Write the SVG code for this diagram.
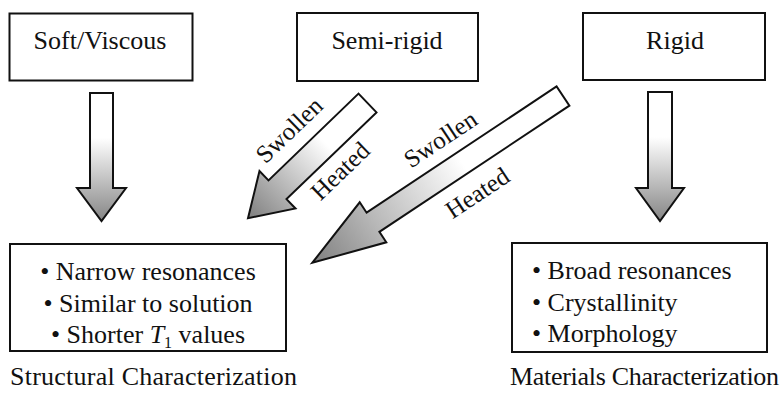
<svg xmlns="http://www.w3.org/2000/svg" width="781" height="393" viewBox="0 0 781 393">
  <defs>
    <style>
      .box { fill: #ffffff; stroke: #111111; stroke-width: 2; }
      .t { font-family: "Liberation Serif", "Times New Roman", serif; font-size: 26px; fill: #111111; }
      .lbl { font-family: "Liberation Serif", "Times New Roman", serif; font-size: 25px; fill: #111111; }
      .arrow { stroke: #111111; stroke-width: 2; stroke-linejoin: miter; }
    </style>
    <linearGradient id="gv" x1="0" y1="0" x2="0" y2="1">
      <stop offset="0" stop-color="#ffffff"/>
      <stop offset="0.35" stop-color="#ffffff"/>
      <stop offset="0.75" stop-color="#b4b4b4"/>
      <stop offset="1" stop-color="#858585"/>
    </linearGradient>
    <linearGradient id="gd1" gradientUnits="userSpaceOnUse" x1="367.5" y1="103" x2="248" y2="218">
      <stop offset="0" stop-color="#ffffff"/>
      <stop offset="0.35" stop-color="#ffffff"/>
      <stop offset="0.75" stop-color="#b0b0b0"/>
      <stop offset="1" stop-color="#7f7f7f"/>
    </linearGradient>
    <linearGradient id="gd2" gradientUnits="userSpaceOnUse" x1="563" y1="96" x2="312" y2="263">
      <stop offset="0" stop-color="#ffffff"/>
      <stop offset="0.4" stop-color="#ffffff"/>
      <stop offset="0.75" stop-color="#b8b8b8"/>
      <stop offset="1" stop-color="#7f7f7f"/>
    </linearGradient>
  </defs>
  <rect width="781" height="393" fill="#ffffff"/>

  <g id="soft-viscous">
    <rect class="box" x="9.5" y="13.5" width="183" height="67"/>
    <text class="t" x="100" y="49" text-anchor="middle">Soft/Viscous</text>
  </g>
  <g id="semi-rigid">
    <rect class="box" x="297" y="13" width="181" height="68"/>
    <text class="t" x="387" y="49" text-anchor="middle">Semi-rigid</text>
  </g>
  <g id="rigid">
    <rect class="box" x="583" y="13" width="182" height="67"/>
    <text class="t" x="675" y="49" text-anchor="middle">Rigid</text>
  </g>
  <g id="structural">
    <rect class="box" x="10" y="244" width="276" height="107"/>
    <text class="t" x="148" y="280" text-anchor="middle">• Narrow resonances</text>
    <text class="t" x="148" y="312" text-anchor="middle">• Similar to solution</text>
    <text class="t" x="148" y="343" text-anchor="middle">• Shorter <tspan font-style="italic">T</tspan><tspan font-size="16" dy="5">1</tspan><tspan dy="-5"> values</tspan></text>
    <text class="t" x="10" y="385" textLength="287" lengthAdjust="spacing">Structural Characterization</text>
  </g>
  <g id="materials">
    <rect class="box" x="512" y="243" width="255" height="109"/>
    <text class="t" x="532" y="279">• Broad resonances</text>
    <text class="t" x="532" y="311">• Crystallinity</text>
    <text class="t" x="532" y="342">• Morphology</text>
    <text class="t" x="510" y="385" textLength="269" lengthAdjust="spacing">Materials Characterization</text>
  </g>

  <g id="connectors">
    <polygon class="arrow" fill="url(#gv)" points="90,93 113,93 113,188 126,188 101.5,221 77,188 90,188"/>
    <polygon class="arrow" fill="url(#gv)" points="648,92 672,92 672,188 684,188 660,221 636,188 648,188"/>
    <polygon class="arrow" fill="url(#gd1)" points="358.5,93.6 268.5,180.4 259.5,171 248,218.2 295.5,208.5 286.5,199.1 376.5,112.4"/>
    <polygon class="arrow" fill="url(#gd2)" points="556.6,86.4 366.6,212.7 359.7,202.3 312.3,262.8 386.3,242.3 379.4,231.9 569.4,105.6"/>
    <text class="lbl" text-anchor="middle" transform="translate(295,136) rotate(-44)">Swollen</text>
    <text class="lbl" text-anchor="middle" transform="translate(346,177) rotate(-44)">Heated</text>
    <text class="lbl" text-anchor="middle" transform="translate(445,146) rotate(-33.6)">Swollen</text>
    <text class="lbl" text-anchor="middle" transform="translate(482,200) rotate(-33.6)">Heated</text>
  </g>
</svg>
